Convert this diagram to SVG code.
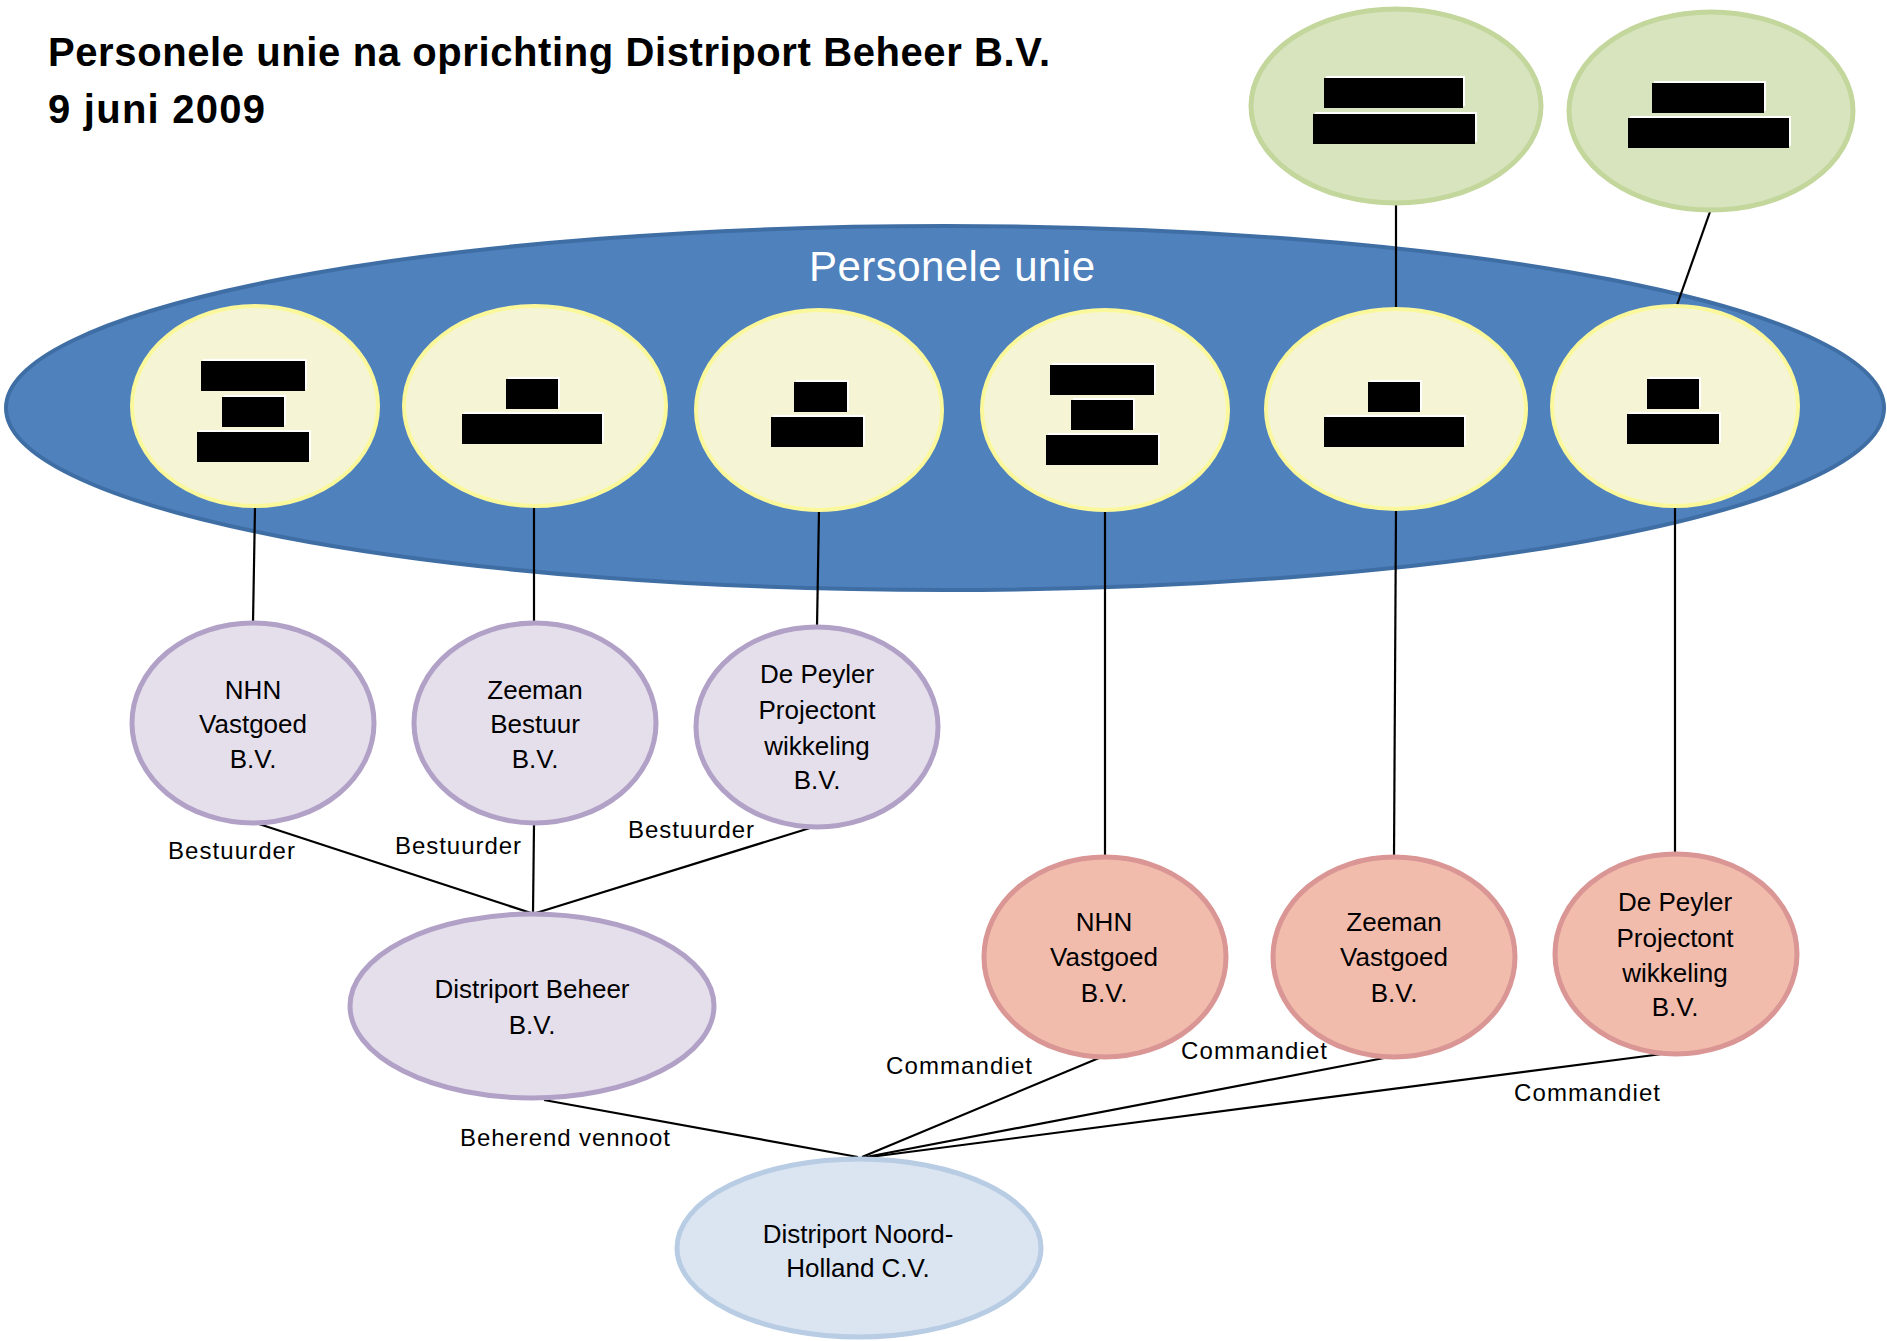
<svg xmlns="http://www.w3.org/2000/svg" width="1887" height="1341" viewBox="0 0 1887 1341">
<style>
text{font-family:"Liberation Sans",Arial,sans-serif;fill:#000;text-anchor:middle}
.title{font-size:40px;font-weight:bold;text-anchor:start}
.big{font-size:42px;fill:#fff}
.n{font-size:26px}
.lbl{font-size:24px;text-anchor:start}
.yel{fill:#F5F5D6;stroke:#FBF89B;stroke-width:4}
.grn{fill:#D7E4BD;stroke:#C3D69B;stroke-width:5}
.pur{fill:#E5DFEC;stroke:#B2A1C7;stroke-width:5}
.pnk{fill:#F2BCAD;stroke:#D99694;stroke-width:5}
.blu{fill:#DBE5F1;stroke:#B8CCE4;stroke-width:5}
.rw{fill:#fff}
.rb{fill:#000}
#connectors line{stroke:#000;stroke-width:2.2}
</style>
<rect width="1887" height="1341" fill="#fff"/>
<g id="title">
<text class="title" x="48" y="66" textLength="1002">Personele unie na oprichting Distriport Beheer B.V.</text>
<text class="title" x="48" y="123" textLength="217">9 juni 2009</text>
</g>
<g id="personele-unie">
<ellipse cx="945" cy="408" rx="939" ry="182" fill="#4F81BD" stroke="#3F6EA5" stroke-width="4"/>
<text class="big" x="952" y="281" textLength="286">Personele unie</text>
</g>
<g id="connectors">
<line x1="1396" y1="202" x2="1396" y2="308"/>
<line x1="1711" y1="209" x2="1677" y2="305"/>
<line x1="255" y1="507" x2="253" y2="623"/>
<line x1="534" y1="507" x2="534" y2="624"/>
<line x1="819" y1="510" x2="817" y2="627"/>
<line x1="1105" y1="510" x2="1105" y2="857"/>
<line x1="1396" y1="509" x2="1394" y2="857"/>
<line x1="1675" y1="507" x2="1675" y2="854"/>
<line x1="259" y1="824" x2="531" y2="913"/>
<line x1="534" y1="825" x2="533" y2="913"/>
<line x1="810" y1="828" x2="536" y2="913"/>
<line x1="544" y1="1100" x2="858" y2="1157"/>
<line x1="1099" y1="1058" x2="862" y2="1157"/>
<line x1="1384" y1="1058" x2="866" y2="1157"/>
<line x1="1662" y1="1054" x2="870" y2="1157"/>
</g>
<g id="labels">
<text class="lbl" x="168" y="859" textLength="127">Bestuurder</text>
<text class="lbl" x="395" y="854" textLength="126">Bestuurder</text>
<text class="lbl" x="628" y="838" textLength="126">Bestuurder</text>
<text class="lbl" x="886" y="1074" textLength="146">Commandiet</text>
<text class="lbl" x="1181" y="1059" textLength="146">Commandiet</text>
<text class="lbl" x="1514" y="1101" textLength="146">Commandiet</text>
<text class="lbl" x="460" y="1146" textLength="210">Beherend vennoot</text>
</g>
<g id="green-1">
<ellipse class="grn" cx="1396" cy="106" rx="145" ry="97"/>
<rect class="rw" x="1326" y="76" width="139" height="30"/><rect class="rb" x="1324" y="78" width="139" height="30"/>
<rect class="rw" x="1315" y="112" width="162" height="30"/><rect class="rb" x="1313" y="114" width="162" height="30"/>
</g>
<g id="green-2">
<ellipse class="grn" cx="1711" cy="111" rx="142" ry="99"/>
<rect class="rw" x="1654" y="81" width="112" height="30"/><rect class="rb" x="1652" y="83" width="112" height="30"/>
<rect class="rw" x="1630" y="116" width="161" height="30"/><rect class="rb" x="1628" y="118" width="161" height="30"/>
</g>
<g id="person-1">
<ellipse class="yel" cx="255" cy="406" rx="123" ry="100"/>
<rect class="rw" x="203" y="359" width="104" height="30"/><rect class="rb" x="201" y="361" width="104" height="30"/>
<rect class="rw" x="224" y="395" width="62" height="30"/><rect class="rb" x="222" y="397" width="62" height="30"/>
<rect class="rw" x="199" y="430" width="112" height="30"/><rect class="rb" x="197" y="432" width="112" height="30"/>
</g>
<g id="person-2">
<ellipse class="yel" cx="535" cy="406" rx="131" ry="100"/>
<rect class="rw" x="508" y="377" width="52" height="30"/><rect class="rb" x="506" y="379" width="52" height="30"/>
<rect class="rw" x="464" y="412" width="140" height="30"/><rect class="rb" x="462" y="414" width="140" height="30"/>
</g>
<g id="person-3">
<ellipse class="yel" cx="819" cy="410" rx="123" ry="100"/>
<rect class="rw" x="796" y="380" width="53" height="30"/><rect class="rb" x="794" y="382" width="53" height="30"/>
<rect class="rw" x="773" y="415" width="92" height="30"/><rect class="rb" x="771" y="417" width="92" height="30"/>
</g>
<g id="person-4">
<ellipse class="yel" cx="1105" cy="410" rx="123" ry="100"/>
<rect class="rw" x="1052" y="363" width="104" height="30"/><rect class="rb" x="1050" y="365" width="104" height="30"/>
<rect class="rw" x="1073" y="398" width="62" height="30"/><rect class="rb" x="1071" y="400" width="62" height="30"/>
<rect class="rw" x="1048" y="433" width="112" height="30"/><rect class="rb" x="1046" y="435" width="112" height="30"/>
</g>
<g id="person-5">
<ellipse class="yel" cx="1396" cy="409" rx="130" ry="100"/>
<rect class="rw" x="1370" y="380" width="52" height="30"/><rect class="rb" x="1368" y="382" width="52" height="30"/>
<rect class="rw" x="1326" y="415" width="140" height="30"/><rect class="rb" x="1324" y="417" width="140" height="30"/>
</g>
<g id="person-6">
<ellipse class="yel" cx="1675" cy="406" rx="123" ry="100"/>
<rect class="rw" x="1649" y="377" width="52" height="30"/><rect class="rb" x="1647" y="379" width="52" height="30"/>
<rect class="rw" x="1629" y="412" width="92" height="30"/><rect class="rb" x="1627" y="414" width="92" height="30"/>
</g>
<g id="nhn-vastgoed-bestuur">
<ellipse class="pur" cx="253" cy="723" rx="121" ry="100"/>
<text class="n" x="253" y="699">NHN</text>
<text class="n" x="253" y="733">Vastgoed</text>
<text class="n" x="253" y="768">B.V.</text>
</g>
<g id="zeeman-bestuur">
<ellipse class="pur" cx="535" cy="723" rx="121" ry="100"/>
<text class="n" x="535" y="699">Zeeman</text>
<text class="n" x="535" y="733">Bestuur</text>
<text class="n" x="535" y="768">B.V.</text>
</g>
<g id="de-peyler-bestuur">
<ellipse class="pur" cx="817" cy="727" rx="121" ry="100"/>
<text class="n" x="817" y="683">De Peyler</text>
<text class="n" x="817" y="719">Projectont</text>
<text class="n" x="817" y="755">wikkeling</text>
<text class="n" x="817" y="789">B.V.</text>
</g>
<g id="distriport-beheer">
<ellipse class="pur" cx="532" cy="1006" rx="182" ry="92"/>
<text class="n" x="532" y="998">Distriport Beheer</text>
<text class="n" x="532" y="1034">B.V.</text>
</g>
<g id="nhn-vastgoed">
<ellipse class="pnk" cx="1105" cy="957" rx="121" ry="100"/>
<text class="n" x="1104" y="931">NHN</text>
<text class="n" x="1104" y="966">Vastgoed</text>
<text class="n" x="1104" y="1002">B.V.</text>
</g>
<g id="zeeman-vastgoed">
<ellipse class="pnk" cx="1394" cy="957" rx="121" ry="100"/>
<text class="n" x="1394" y="931">Zeeman</text>
<text class="n" x="1394" y="966">Vastgoed</text>
<text class="n" x="1394" y="1002">B.V.</text>
</g>
<g id="de-peyler-projectontwikkeling">
<ellipse class="pnk" cx="1676" cy="954" rx="121" ry="100"/>
<text class="n" x="1675" y="911">De Peyler</text>
<text class="n" x="1675" y="947">Projectont</text>
<text class="n" x="1675" y="982">wikkeling</text>
<text class="n" x="1675" y="1016">B.V.</text>
</g>
<g id="distriport-noord-holland">
<ellipse class="blu" cx="859" cy="1248" rx="182" ry="89"/>
<text class="n" x="858" y="1243">Distriport Noord-</text>
<text class="n" x="858" y="1277">Holland C.V.</text>
</g>
</svg>
